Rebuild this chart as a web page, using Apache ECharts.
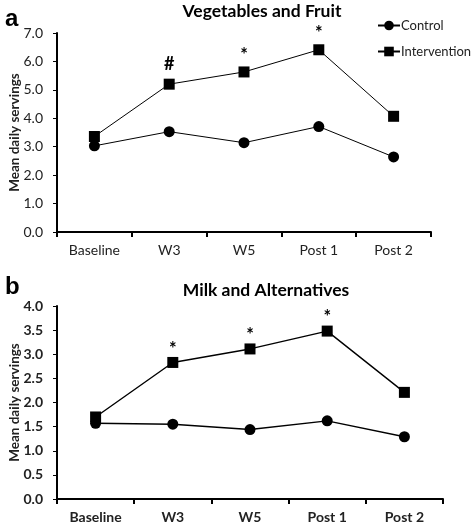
<!DOCTYPE html>
<html><head><meta charset="utf-8">
<script src="https://cdn.jsdelivr.net/npm/echarts@6/dist/echarts.min.js"></script>
<style>html,body{margin:0;padding:0;background:#fff}#c{width:472px;height:523px}</style>
</head><body><div id="c"></div>
<script>
const categories = ['Baseline', 'W3', 'W5', 'Post 1', 'Post 2'];
const vegControl = [3.03, 3.53, 3.14, 3.71, 2.64];
const vegIntervention = [3.36, 5.20, 5.63, 6.41, 4.07];
const vegMarks = ['', '#', '*', '*', ''];
const milkControl = [1.57, 1.55, 1.44, 1.62, 1.29];
const milkIntervention = [1.70, 2.83, 3.11, 3.48, 2.21];
const milkMarks = ['', '*', '*', '*', ''];
const vegTicks = [0, 7, 1];
const milkTicks = [0, 4, 0.5];

const FONT = 'Lato, "Open Sans", sans-serif';
const chart = echarts.init(document.getElementById('c'));

function xAxis(gi, bold) {
  return {
    type: 'category', gridIndex: gi, data: categories, boundaryGap: true,
    axisLine: {lineStyle: {color: '#000', width: 2}},
    axisTick: {show: true, inside: false, length: 5, lineStyle: {color: '#000', width: 2}},
    axisLabel: {color: '#222', fontSize: 14, fontFamily: FONT, fontWeight: bold ? 'bold' : 'normal', margin: 11}
  };
}
function yAxis(gi, t, bold) {
  return {
    type: 'value', gridIndex: gi, min: t[0], max: t[1], interval: t[2],
    name: 'Mean daily servings', nameLocation: 'middle', nameGap: 35, nameMoveOverlap: false,
    nameTextStyle: {color: '#222', fontSize: 13.5, fontWeight: 'bold', fontFamily: FONT},
    axisLine: {show: true, lineStyle: {color: '#000', width: 2}},
    axisTick: {show: true, length: 4, lineStyle: {color: '#000', width: 1}},
    splitLine: {show: false},
    axisLabel: {color: '#222', fontSize: 14, fontFamily: FONT, fontWeight: bold ? 'bold' : 'normal', margin: 14,
      formatter: v => v.toFixed(1)}
  };
}
function line(name, xi, data, sym, marks, starShift, w) {
  const s = {
    name: name, type: 'line', xAxisIndex: xi, yAxisIndex: xi,
    symbol: sym, symbolSize: 11,
    lineStyle: {color: '#000', width: w}, itemStyle: {color: '#000'},
    emphasis: {disabled: true}, z: sym === 'rect' ? 3 : 2
  };
  if (marks) {
    s.data = data.map((v, i) => ({
      value: v,
      label: {show: marks[i] !== '', position: 'top', distance: 5, offset: [0, marks[i] === '*' ? starShift : 0],
        color: '#000', fontSize: 18, fontWeight: 'bold', fontFamily: FONT, formatter: marks[i]}
    }));
  } else {
    s.data = data;
  }
  return s;
}

chart.setOption({
  animation: false,
  backgroundColor: '#fff',
  title: [
    {text: 'Vegetables and Fruit', left: 262, top: 2, padding: 0, textAlign: 'center',
     textStyle: {fontSize: 17.5, fontWeight: 'bold', color: '#000', fontFamily: FONT}},
    {text: 'Milk and Alternatives', left: 266, top: 281, padding: 0, textAlign: 'center',
     textStyle: {fontSize: 17.5, fontWeight: 'bold', color: '#000', fontFamily: FONT}},
    {text: 'a', left: 0, top: 2, textStyle: {fontSize: 24, fontWeight: 'bold', color: '#000', fontFamily: 'Liberation Sans, Arial'}},
    {text: 'b', left: 0, top: 270, textStyle: {fontSize: 24, fontWeight: 'bold', color: '#000', fontFamily: 'Liberation Sans, Arial'}}
  ],
  legend: {
    data: ['Control', 'Intervention'], orient: 'vertical', left: 377, top: 19, padding: 0,
    itemWidth: 22, itemHeight: 12, itemGap: 13,
    textStyle: {fontSize: 13, color: '#222', fontFamily: FONT, padding: [0,0,0,-4]}
  },
  grid: [
    {left: 57, right: 41, top: 33, height: 199, outerBoundsMode: 'none', containLabel: false},
    {left: 57, right: 29, top: 306, height: 193, outerBoundsMode: 'none', containLabel: false}
  ],
  xAxis: [xAxis(0, false), xAxis(1, true)],
  yAxis: [yAxis(0, vegTicks, false), yAxis(1, milkTicks, true)],
  series: [
    line('Control', 0, vegControl, 'circle', null, 0, 1),
    line('Intervention', 0, vegIntervention, 'rect', vegMarks, 3, 1),
    line('Control', 1, milkControl, 'circle', null, 0, 1.4),
    line('Intervention', 1, milkIntervention, 'rect', milkMarks, 6, 1.4)
  ]
});
</script></body></html>
